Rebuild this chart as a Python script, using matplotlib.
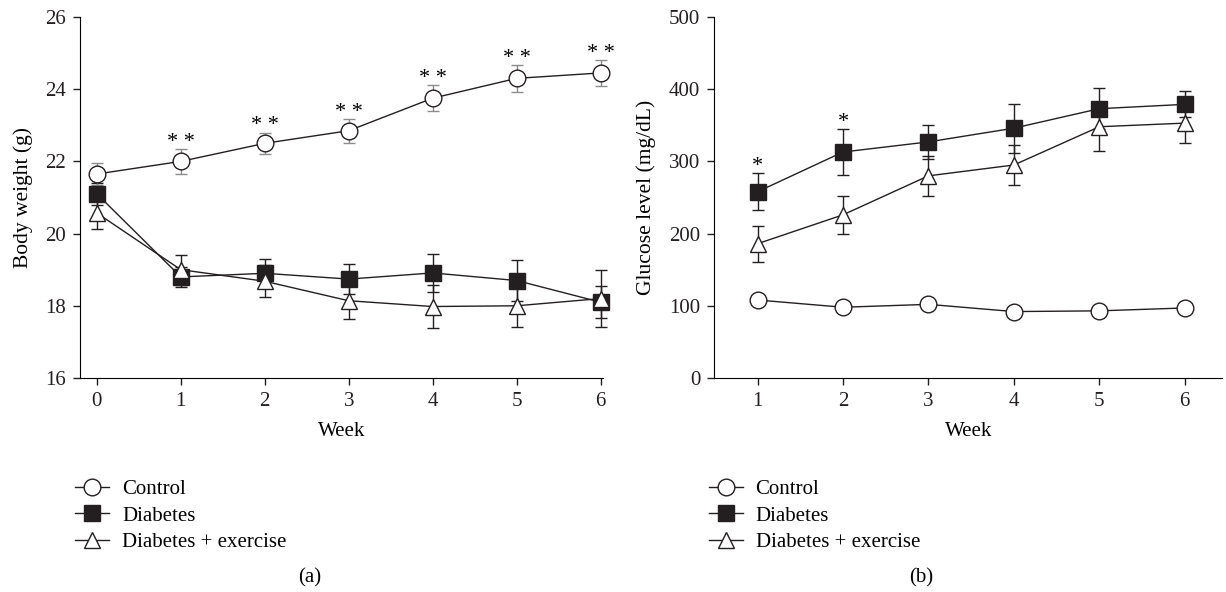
import matplotlib.pyplot as plt
from matplotlib.lines import Line2D

plt.rcParams['font.family'] = ['Liberation Serif', 'DejaVu Serif']

# Panel (a): body weight
semanas_a = [0, 1, 2, 3, 4, 5, 6]
peso_control = [21.65, 22.0, 22.5, 22.85, 23.75, 24.3, 24.45]
peso_control_err = [0.3, 0.35, 0.3, 0.33, 0.36, 0.37, 0.35]
peso_diabetes = [21.1, 18.8, 18.9, 18.74, 18.91, 18.7, 18.1]
peso_diabetes_err = [0.3, 0.28, 0.39, 0.42, 0.52, 0.56, 0.45]
peso_ejercicio = [20.57, 19.0, 18.68, 18.14, 17.98, 18.0, 18.2]
peso_ejercicio_err = [0.44, 0.42, 0.45, 0.5, 0.6, 0.6, 0.8]
marcas_a = ['', '* *', '* *', '* *', '* *', '* *', '* *']

# Panel (b): glucose
semanas_b = [1, 2, 3, 4, 5, 6]
gluc_control = [108, 98, 102, 92, 93, 97]
gluc_control_err = [3, 3, 3, 3, 3, 3]
gluc_diabetes = [258, 313, 327, 346, 373, 379]
gluc_diabetes_err = [26, 32, 24, 34, 28, 18]
gluc_ejercicio = [186, 226, 280, 295, 348, 353]
gluc_ejercicio_err = [25, 26, 28, 28, 34, 28]
marcas_b = ['*', '*', '', '', '', '']

negro = '#231f20'
fs = 15

fig = plt.figure(figsize=(12.26, 5.92), dpi=100)
ax1 = fig.add_axes([0.0653, 0.3615, 0.4266, 0.6098])
ax2 = fig.add_axes([0.5824, 0.3615, 0.4146, 0.6098])


def dibujar(ax, x, y, err, marker, face, ms, ecolor=negro):
    ax.errorbar(x, y, yerr=err, color=negro, ecolor=ecolor, elinewidth=1,
                capsize=4, capthick=1, lw=1, marker=marker, ms=ms,
                mfc=face, mec=negro, mew=1, clip_on=False, zorder=3)


dibujar(ax1, semanas_a, peso_diabetes, peso_diabetes_err, 's', negro, 11)
dibujar(ax1, semanas_a, peso_ejercicio, peso_ejercicio_err, '^', 'white', 12)
dibujar(ax1, semanas_a, peso_control, peso_control_err, 'o', 'white', 12, ecolor='#8c8c8c')
for x, y, e, m in zip(semanas_a, peso_control, peso_control_err, marcas_a):
    if m:
        ax1.text(x, y + e + 0.06, m, ha='center', va='baseline', fontsize=16)

dibujar(ax2, semanas_b, gluc_control, gluc_control_err, 'o', 'white', 12)
dibujar(ax2, semanas_b, gluc_diabetes, gluc_diabetes_err, 's', negro, 11)
dibujar(ax2, semanas_b, gluc_ejercicio, gluc_ejercicio_err, '^', 'white', 12)
for x, y, e, m in zip(semanas_b, gluc_diabetes, gluc_diabetes_err, marcas_b):
    if m:
        ax2.text(x, y + e + 3, m, ha='center', va='baseline', fontsize=16)

ax1.set_xlim(-0.2, 6.03)
ax1.set_ylim(16, 26)
ax1.set_xticks(semanas_a)
ax1.set_yticks([16, 18, 20, 22, 24, 26])
ax1.set_ylabel('Body weight (g)', fontsize=fs + 0.5, labelpad=9)
ax1.set_xlabel('Week', fontsize=fs, labelpad=8)

ax2.set_xlim(0.49, 6.44)
ax2.set_ylim(0, 500)
ax2.set_xticks(semanas_b)
ax2.set_yticks([0, 100, 200, 300, 400, 500])
ax2.set_ylabel('Glucose level (mg/dL)', fontsize=fs + 0.5, labelpad=9)
ax2.set_xlabel('Week', fontsize=fs, labelpad=8)

for ax in (ax1, ax2):
    ax.spines['top'].set_visible(False)
    ax.spines['right'].set_visible(False)
    ax.tick_params(direction='out', length=5, width=1, labelsize=fs, colors=negro, pad=5)

handles = [
    Line2D([], [], color=negro, lw=1, marker='o', ms=12, mfc='white', mec=negro),
    Line2D([], [], color=negro, lw=1, marker='s', ms=11, mfc=negro, mec=negro),
    Line2D([], [], color=negro, lw=1, marker='^', ms=12, mfc='white', mec=negro),
]
nombres = ['Control', 'Diabetes', 'Diabetes + exercise']
for x0 in (0.0612, 0.578):
    fig.legend(handles, nombres, loc='upper left', bbox_to_anchor=(x0, 0.19),
               frameon=False, fontsize=fs, handlelength=1.65, handletextpad=0.6,
               labelspacing=0.33, borderpad=0, borderaxespad=0)
fig.text(0.253, 0.0236, '(a)', ha='center', va='center', fontsize=fs)
fig.text(0.751, 0.0236, '(b)', ha='center', va='center', fontsize=fs)

fig.savefig('out.png', dpi=100)
